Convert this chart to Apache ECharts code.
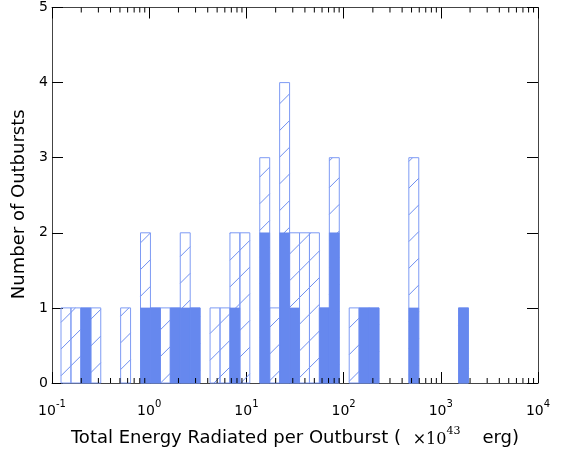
<!DOCTYPE html>
<html>
<head>
<meta charset="utf-8">
<script src="https://cdn.jsdelivr.net/npm/echarts@6/dist/echarts.min.js"></script>
<style>
  html, body { margin: 0; padding: 0; background: #fff; }
  #chart { width: 567px; height: 451px; }
</style>
</head>
<body>
<div id="chart"></div>
<script>
// Histogram bins: equal width in log10(energy)
const firstEdgeLog = -0.9073;
const binWidthDex = 0.10224;

// Number of outbursts per bin, all outbursts (hatched)
const allCounts = [1, 1, 1, 1, 0, 0, 1, 0, 2, 1,
                   1, 1, 2, 1, 0, 1, 1, 2, 2, 0,
                   3, 1, 4, 2, 2, 2, 1, 3, 0, 1,
                   1, 1, 0, 0, 0, 3, 0, 0, 0, 0,
                   1];
// Number of outbursts per bin, subset (solid)
const subsetCounts = [0, 0, 1, 0, 0, 0, 0, 0, 1, 1,
                      0, 1, 1, 1, 0, 0, 0, 1, 0, 0,
                      2, 0, 2, 1, 0, 0, 1, 2, 0, 0,
                      1, 1, 0, 0, 0, 1, 0, 0, 0, 0,
                      1];

// Axis ranges and tick values
const xMin = 0.1, xMax = 10000;
const yMin = 0, yMax = 5, yStep = 1;
const decadeExponents = [-1, 0, 1, 2, 3];
const minorMultipliers = [2, 3, 4, 5, 6, 7, 8, 9];

const minorTicks = [];
decadeExponents.forEach(function (e) {
  minorMultipliers.forEach(function (m) { minorTicks.push(m * Math.pow(10, e)); });
});

function binData(counts) {
  return counts.map(function (c, i) {
    const lo = Math.pow(10, firstEdgeLog + i * binWidthDex);
    const hi = Math.pow(10, firstEdgeLog + (i + 1) * binWidthDex);
    return [lo, hi, c];
  }).filter(function (d) { return d[2] > 0; });
}

const edgeBlue = '#7e9bf4';
const hatchBlue = '#6f8ff0';
const solidBlue = '#6688ee';
const hatchPeriod = 26.7;
const hatchPhase = 9.6;

function hatchedBar(params, api) {
  const p0 = api.coord([api.value(0), 0]);
  const p1 = api.coord([api.value(1), api.value(2)]);
  const x0 = p0[0], x1 = p1[0], yBot = p0[1], yTop = p1[1];
  const children = [];
  // '/' hatch lines: x + y = const in screen space
  const cStart = Math.floor((x0 + yTop - hatchPhase) / hatchPeriod);
  const cEnd = Math.ceil((x1 + yBot - hatchPhase) / hatchPeriod);
  for (let k = cStart; k <= cEnd; k++) {
    const c = hatchPhase + k * hatchPeriod;
    const xs = Math.max(x0, c - yBot);
    const xe = Math.min(x1, c - yTop);
    if (xe > xs) {
      children.push({
        type: 'line',
        shape: { x1: xs, y1: c - xs, x2: xe, y2: c - xe },
        style: { stroke: hatchBlue, lineWidth: 1 }
      });
    }
  }
  children.push({
    type: 'rect',
    shape: { x: x0, y: yTop, width: x1 - x0, height: yBot - yTop },
    style: { fill: 'none', stroke: edgeBlue, lineWidth: 1 }
  });
  return { type: 'group', children: children };
}

function solidBar(params, api) {
  const p0 = api.coord([api.value(0), 0]);
  const p1 = api.coord([api.value(1), api.value(2)]);
  return {
    type: 'rect',
    shape: { x: p0[0], y: p1[1], width: p1[0] - p0[0], height: p0[1] - p1[1] },
    style: { fill: solidBlue, stroke: solidBlue, lineWidth: 0.5 }
  };
}

// Log-scale minor ticks on the bottom and top frame edges
function minorTickMarks(params, api) {
  const v = api.value(0);
  const b = api.coord([v, yMin]);
  const t = api.coord([v, yMax]);
  return {
    type: 'group',
    children: [
      { type: 'line', shape: { x1: b[0], y1: b[1], x2: b[0], y2: b[1] - 5 }, style: { stroke: '#000', lineWidth: 1 } },
      { type: 'line', shape: { x1: t[0], y1: t[1], x2: t[0], y2: t[1] + 5 }, style: { stroke: '#000', lineWidth: 1 } }
    ]
  };
}

const font = 'DejaVu Sans';
function spine() { return { show: true, onZero: false, lineStyle: { color: '#444', width: 1 } }; }
function majorTick() { return { show: true, inside: true, length: 11, lineStyle: { color: '#000', width: 1 } }; }

const chart = echarts.init(document.getElementById('chart'), null, { renderer: 'canvas' });
chart.setOption({
  animation: false,
  backgroundColor: '#fff',
  grid: { left: 52, right: 29, top: 7.5, bottom: 68, containLabel: false, outerBoundsMode: 'none' },
  xAxis: [{
    type: 'log', logBase: 10, min: xMin, max: xMax, position: 'bottom',
    axisLine: spine(), axisTick: majorTick(), splitLine: { show: false },
    axisLabel: {
      margin: 16,
      formatter: function (v) {
        const e = Math.round(Math.log10(v));
        return '{b|10}{s|' + e + '}';
      },
      rich: {
        b: { fontFamily: font, fontSize: 14, color: '#000', lineHeight: 19, verticalAlign: 'bottom' },
        s: { fontFamily: font, fontSize: 10, color: '#000', lineHeight: 11, verticalAlign: 'top' }
      }
    },
    name: 'Total Energy Radiated per Outburst ( {m|×10}{s|43}erg)',
    nameLocation: 'middle', nameGap: 43,
    nameTextStyle: {
      fontFamily: font, fontSize: 18, color: '#000', lineHeight: 24, verticalAlign: 'top',
      rich: {
        m: { fontFamily: 'DejaVu Serif', fontSize: 16, color: '#000', lineHeight: 22, verticalAlign: 'bottom', padding: [0, 0, 2, 6] },
        s: { fontFamily: 'DejaVu Serif', fontSize: 11, color: '#000', lineHeight: 13, verticalAlign: 'top', padding: [0, 22, 0, 0] }
      }
    }
  }, {
    type: 'log', logBase: 10, min: xMin, max: xMax, position: 'top',
    axisLine: spine(), axisTick: majorTick(), axisLabel: { show: false }, splitLine: { show: false }
  }],
  yAxis: [{
    type: 'value', min: yMin, max: yMax, interval: yStep, position: 'left',
    axisLine: spine(), axisTick: majorTick(), splitLine: { show: false },
    axisLabel: { margin: 4, fontFamily: font, fontSize: 14, color: '#000' },
    name: 'Number of Outbursts', nameLocation: 'middle', nameGap: 22,
    nameTextStyle: { fontFamily: font, fontSize: 18, color: '#000', padding: [0, 18, 0, 0] }
  }, {
    type: 'value', min: yMin, max: yMax, interval: yStep, position: 'right',
    axisLine: spine(), axisTick: majorTick(), axisLabel: { show: false }, splitLine: { show: false }
  }],
  series: [{
    type: 'custom', name: 'all', xAxisIndex: 0, yAxisIndex: 0,
    data: binData(allCounts), renderItem: hatchedBar, z: 2
  }, {
    type: 'custom', name: 'subset', xAxisIndex: 0, yAxisIndex: 0,
    data: binData(subsetCounts), renderItem: solidBar, z: 3
  }, {
    type: 'custom', name: 'minor', xAxisIndex: 0, yAxisIndex: 0,
    data: minorTicks.map(function (v) { return [v]; }), renderItem: minorTickMarks, z: 4, silent: true
  }]
});
</script>
</body>
</html>
